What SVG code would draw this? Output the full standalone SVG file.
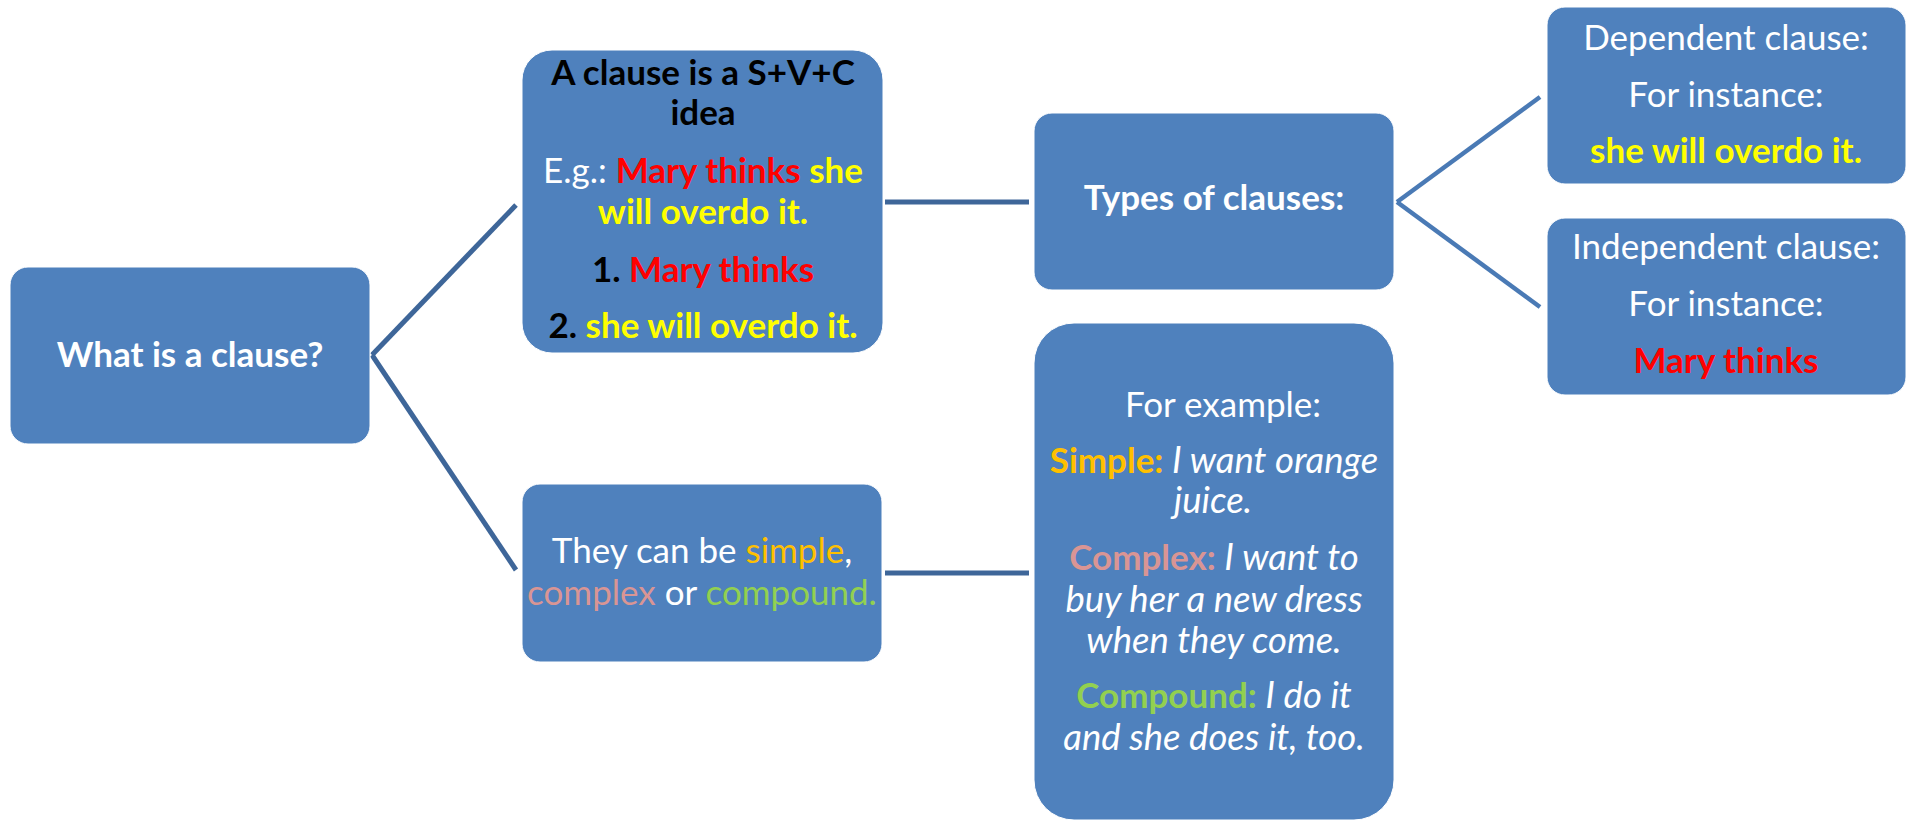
<svg xmlns="http://www.w3.org/2000/svg" width="1914" height="822" viewBox="0 0 1914 822">
<style>
.box{fill:#4F81BD;stroke:#FFFFFF;stroke-width:1}
.t{font-family:Lato,"Liberation Sans",sans-serif;font-size:35px;fill:#FFFFFF;text-anchor:middle}
.b{font-weight:bold}
.i{font-style:italic;font-size:36.5px}
.k{fill:#000000}
.r{fill:#FF0000}
.y{fill:#FFFF00}
.o{fill:#FFC000}
.p{fill:#D99594}
.g{fill:#92D050}
.w{fill:#FFFFFF}
.c1{stroke:#3E6699;stroke-width:5;fill:none}
.c2{stroke:#4A7AB5;stroke-width:4.5;fill:none}
</style>
<rect width="1914" height="822" fill="#FFFFFF"/>
<g id="connectors">
<path class="c1" d="M372,355 L516,205"/>
<path class="c1" d="M372,355 L516,570"/>
<path class="c1" d="M885,202 H1029"/>
<path class="c1" d="M885,573 H1029"/>
<path class="c2" d="M1397,202 L1540,97"/>
<path class="c2" d="M1397,202 L1540,307"/>
</g>
<g id="what">
<rect class="box" x="10" y="267" width="360" height="177" rx="18"/>
<text class="t b" x="190" y="367">What is a clause?</text>
</g>
<g id="definition">
<rect class="box" x="522" y="50" width="361" height="303" rx="30"/>
<text class="t b k" x="703" y="85">A clause is a S+V+C</text>
<text class="t b k" x="703" y="125">idea</text>
<text class="t" x="703" y="183"><tspan class="w">E.g.: </tspan><tspan class="b r">Mary thinks</tspan><tspan class="b y"> she</tspan></text>
<text class="t b y" x="703" y="224">will overdo it.</text>
<text class="t b" x="703" y="282"><tspan class="k">1. </tspan><tspan class="r">Mary thinks</tspan></text>
<text class="t b" x="703" y="338"><tspan class="k">2. </tspan><tspan class="y">she will overdo it.</tspan></text>
</g>
<g id="types">
<rect class="box" x="1034" y="113" width="360" height="177" rx="18"/>
<text class="t b" x="1214" y="210">Types of clauses:</text>
</g>
<g id="dependent">
<rect class="box" x="1547" y="7" width="359" height="177" rx="18"/>
<text class="t" x="1726" y="50">Dependent clause:</text>
<text class="t" x="1726" y="107">For instance:</text>
<text class="t b y" x="1726" y="163">she will overdo it.</text>
</g>
<g id="independent">
<rect class="box" x="1547" y="218" width="359" height="177" rx="18"/>
<text class="t" x="1726" y="259">Independent clause:</text>
<text class="t" x="1726" y="316">For instance:</text>
<text class="t b r" x="1726" y="373">Mary thinks</text>
</g>
<g id="kinds">
<rect class="box" x="522" y="484" width="360" height="178" rx="18"/>
<text class="t" x="702" y="563"><tspan class="w">They can be </tspan><tspan class="o">simple</tspan><tspan class="w">,</tspan></text>
<text class="t" x="702" y="605"><tspan class="p">complex</tspan><tspan class="w"> or </tspan><tspan class="g">compound.</tspan></text>
</g>
<g id="examples">
<rect class="box" x="1034" y="323" width="360" height="497" rx="40"/>
<text class="t" x="1223" y="417">For example:</text>
<text class="t" x="1214" y="473"><tspan class="b o">Simple:</tspan><tspan class="i w"> I want orange</tspan></text>
<text class="t i" x="1213" y="513">juice.</text>
<text class="t" x="1214" y="570"><tspan class="b p">Complex:</tspan><tspan class="i w"> I want to</tspan></text>
<text class="t i" x="1214" y="612">buy her a new dress</text>
<text class="t i" x="1214" y="653">when they come.</text>
<text class="t" x="1214" y="708"><tspan class="b g">Compound:</tspan><tspan class="i w"> I do it</tspan></text>
<text class="t i" x="1214" y="750">and she does it, too.</text>
</g>
</svg>
